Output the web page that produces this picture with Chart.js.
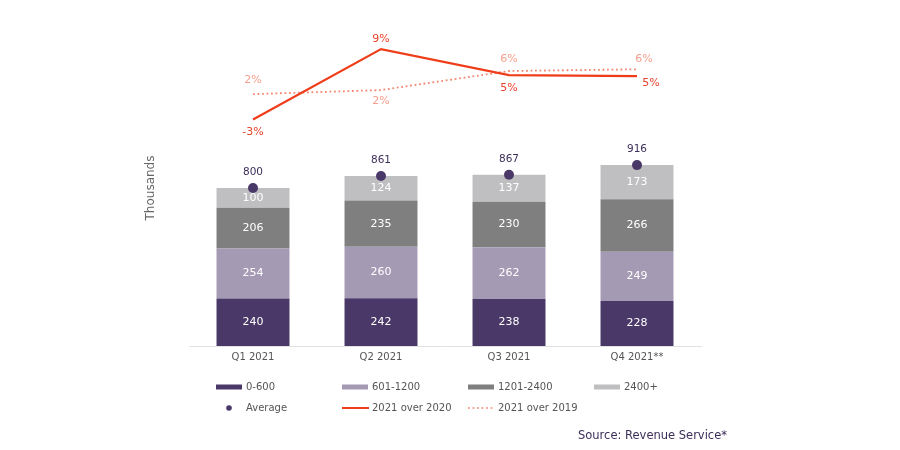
<!DOCTYPE html>
<html>
<head>
<meta charset="utf-8">
<script src="https://cdn.jsdelivr.net/npm/chart.js@4.4.1/dist/chart.umd.min.js"></script>
<style>
  html, body { margin: 0; padding: 0; background: #fff; }
  #wrap { position: relative; width: 900px; height: 450px; }
</style>
</head>
<body>
<div id="wrap"><canvas id="chart" width="900" height="450"></canvas></div>
<script>
const quarters = ['Q1 2021', 'Q2 2021', 'Q3 2021', 'Q4 2021**'];
const band0to600 = [240, 242, 238, 228];
const band601to1200 = [254, 260, 262, 249];
const band1201to2400 = [206, 235, 230, 266];
const band2400plus = [100, 124, 137, 173];
const average = [800, 861, 867, 916];
const over2020 = [-2.8, 9.4, 4.9, 4.7];
const over2019 = [1.6, 2.3, 5.6, 5.9];

const FONT = '"DejaVu Sans", Verdana, sans-serif';

const barLabel = { font: '11px ' + FONT, color: '#ffffff', format: v => v };

const labelPlugin = {
    id: 'valueLabels',
    afterDatasetsDraw(chart) {
        const ctx = chart.ctx;
        chart.data.datasets.forEach((ds, i) => {
            const s = ds.labelStyle;
            if (!s) return;
            const meta = chart.getDatasetMeta(i);
            ctx.save();
            ctx.font = s.font;
            ctx.fillStyle = s.color;
            ctx.textAlign = 'center';
            ctx.textBaseline = 'middle';
            meta.data.forEach((el, j) => {
                let x = el.x, y = el.y;
                if (meta.type === 'bar') y = (el.y + el.base) / 2;
                const off = s.offsets ? s.offsets[j] : [0, 0];
                ctx.fillText(s.format(ds.data[j]), x + off[0], y + off[1]);
            });
            ctx.restore();
        });
    }
};

const legendPlugin = {
    id: 'gridLegend',
    afterDraw(chart) {
        const ctx = chart.ctx;
        const cols = [216, 342, 468, 594];
        const rows = [387, 408];
        ctx.save();
        ctx.font = '10px ' + FONT;
        ctx.textBaseline = 'middle';
        ctx.textAlign = 'left';
        chart.data.datasets.forEach((ds, i) => {
            const x = cols[i % 4], y = rows[Math.floor(i / 4)];
            if (ds.type === 'bar') {
                ctx.fillStyle = ds.backgroundColor;
                ctx.fillRect(x, y - 2.5, 26, 5);
            } else if (ds.showLine === false) {
                ctx.fillStyle = ds.backgroundColor;
                ctx.beginPath();
                ctx.arc(x + 13, y, 2.8, 0, Math.PI * 2);
                ctx.fill();
            } else {
                ctx.strokeStyle = ds.borderColor;
                ctx.lineWidth = ds.borderDash ? 1.6 : 2;
                ctx.setLineDash(ds.borderDash || []);
                ctx.beginPath();
                ctx.moveTo(x, y);
                ctx.lineTo(x + 27, y);
                ctx.stroke();
                ctx.setLineDash([]);
            }
            ctx.fillStyle = '#555555';
            ctx.fillText(ds.label, x + 30, y);
        });
        ctx.font = '11.5px ' + FONT;
        ctx.fillStyle = '#3d2e5a';
        ctx.textAlign = 'left';
        ctx.fillText('Source: Revenue Service*', 578, 436);
        ctx.restore();
    }
};

new Chart(document.getElementById('chart'), {
    data: {
        labels: quarters,
        datasets: [
            { type: 'bar', label: '0-600', data: band0to600, backgroundColor: '#4a3868', order: 2, labelStyle: barLabel },
            { type: 'bar', label: '601-1200', data: band601to1200, backgroundColor: '#a49ab4', order: 2, labelStyle: barLabel },
            { type: 'bar', label: '1201-2400', data: band1201to2400, backgroundColor: '#7f7f80', order: 2, labelStyle: barLabel },
            { type: 'bar', label: '2400+', data: band2400plus, backgroundColor: '#bfbfc1', order: 2, labelStyle: barLabel },
            {
                type: 'line', label: 'Average', data: average, stack: 'avg', showLine: false,
                backgroundColor: '#4a3868', borderColor: '#4a3868', pointRadius: 5, pointBorderWidth: 0,
                order: 0,
                labelStyle: { font: '10.5px ' + FONT, color: '#3d2e5a', format: v => v, offsets: [[0, -16], [0, -16], [0, -16], [0, -16]] }
            },
            {
                type: 'line', label: '2021 over 2020', data: over2020, yAxisID: 'y2',
                borderColor: '#ef3d1a', borderWidth: 2.2, pointRadius: 0, tension: 0, order: 1,
                labelStyle: { font: '11px ' + FONT, color: '#e8432b', format: v => Math.round(v) + '%',
                              offsets: [[0, 13], [0, -10], [0, 13], [14, 7]] }
            },
            {
                type: 'line', label: '2021 over 2019', data: over2019, yAxisID: 'y2',
                borderColor: '#f4866f', borderWidth: 1.8, borderDash: [1.8, 2.7], pointRadius: 0, tension: 0, order: 1,
                labelStyle: { font: '11px ' + FONT, color: '#f5a08e', format: v => Math.round(v) + '%',
                              offsets: [[0, -14], [0, 11], [0, -12], [7, -10]] }
            }
        ]
    },
    options: {
        responsive: false,
        animation: false,
        devicePixelRatio: 1,
        layout: { padding: { left: 140, right: 199, top: 30, bottom: 84 } },
        plugins: { legend: { display: false }, tooltip: { enabled: false } },
        datasets: { bar: { barPercentage: 0.57, categoryPercentage: 1 } },
        scales: {
            x: {
                stacked: true,
                grid: { display: false, drawTicks: false },
                border: { display: true, color: '#e2e2e2', width: 1 },
                ticks: { color: '#555555', font: { family: FONT, size: 10 }, padding: 5 },
                afterFit: s => { s.height = 20; }
            },
            y: {
                stacked: true, min: 0, max: 1600,
                grid: { display: false }, border: { display: false },
                ticks: { display: false },
                title: { display: true, text: 'Thousands', color: '#666666', font: { family: FONT, size: 12 } },
                afterFit: s => { s.width = 49; }
            },
            y2: { display: false, position: 'right', min: -42, max: 12.7 }
        }
    },
    plugins: [labelPlugin, legendPlugin]
});
</script>
</body>
</html>
